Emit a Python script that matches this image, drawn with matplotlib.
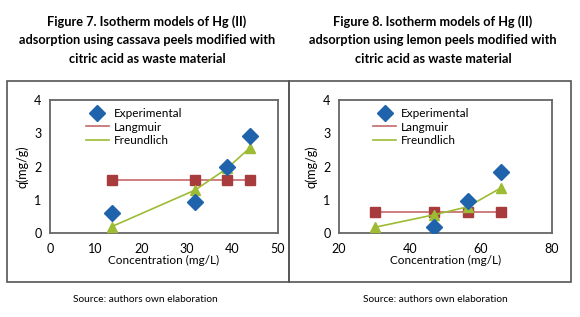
import matplotlib
matplotlib.use("Agg")
from matplotlib import pyplot as plt
from matplotlib.patches import Rectangle
from matplotlib.lines import Line2D

# Figure 7 - cassava peels
cassava_conc = [13.5, 31.8, 38.8, 43.9]
cassava_exp = [0.59, 0.93, 1.98, 2.93]
cassava_lang = [1.59, 1.59, 1.59, 1.59]
cassava_freu = [0.19, 1.29, 1.94, 2.57]

# Figure 8 - lemon peels
lemon_conc_exp = [46.9, 56.3, 65.5]
lemon_exp = [0.19, 0.97, 1.82]
lemon_conc_fit = [30.0, 46.9, 56.3, 65.5]
lemon_lang = [0.64, 0.64, 0.64, 0.64]
lemon_freu = [0.17, 0.55, 0.79, 1.35]

titles = ["Figure 7. Isotherm models of Hg (II)\nadsorption using cassava peels modified with\ncitric acid as waste material",
          "Figure 8. Isotherm models of Hg (II)\nadsorption using lemon peels modified with\ncitric acid as waste material"]
source = "Source: authors own elaboration"

blue = "#1f63ad"
red_line = "#c4686a"
red_mark = "#a83c3c"
green = "#9dbb33"
frame = "#555555"

plt.rcParams["font.family"] = ["Lato", "DejaVu Sans"]

fig = plt.figure(figsize=(5.8, 3.17), dpi=100)

# outer frames
fig.patches.append(Rectangle((7/580, 1-282/317), (289-7)/580, (282-81)/317,
                             transform=fig.transFigure, fill=False, edgecolor=frame, lw=1.2))
fig.patches.append(Rectangle((289/580, 1-282/317), (571-289)/580, (282-81)/317,
                             transform=fig.transFigure, fill=False, edgecolor=frame, lw=1.2))


def draw(ax, x_exp, y_exp, x_fit, y_lang, y_freu, xlim, xticks):
    ax.plot(x_fit, y_lang, color=red_line, lw=1.2, marker="s", ms=7,
            mfc=red_mark, mec=red_mark, zorder=2)
    ax.plot(x_fit, y_freu, color=green, lw=1.2, marker="^", ms=7,
            mfc=green, mec=green, zorder=3)
    ax.plot(x_exp, y_exp, ls="none", marker="D", ms=8, mfc=blue, mec=blue, zorder=4)
    ax.set_xlim(*xlim)
    ax.set_ylim(0, 4)
    ax.set_xticks(xticks)
    ax.set_yticks([0, 1, 2, 3, 4])
    ax.tick_params(length=0, labelsize=9)
    ax.tick_params(axis="x", pad=7)
    ax.tick_params(axis="y", pad=6)
    for s in ax.spines.values():
        s.set_color("#666666")
        s.set_linewidth(1.3)
    ax.set_xlabel("Concentration (mg/L)", fontsize=8.5, labelpad=0)
    ax.set_ylabel("q(mg/g)", fontsize=9, labelpad=4)
    handles = [Line2D([], [], ls="none", marker="D", ms=8, mfc=blue, mec=blue),
               Line2D([], [], color=red_line, lw=1.2),
               Line2D([], [], color=green, lw=1.2)]
    ax.legend(handles, ["Experimental", "Langmuir", "Freundlich"], loc="upper left",
              bbox_to_anchor=(0.12, 1.0), frameon=False, fontsize=8.5,
              handlelength=2.0, handletextpad=0.4, labelspacing=0.2, borderaxespad=0.3)


ax1 = fig.add_axes([50/580, 1-233/317, 228/580, 133/317])
draw(ax1, cassava_conc, cassava_exp, cassava_conc, cassava_lang, cassava_freu,
     (0, 50), [0, 10, 20, 30, 40, 50])

ax2 = fig.add_axes([339/580, 1-233/317, 213/580, 133/317])
draw(ax2, lemon_conc_exp, lemon_exp, lemon_conc_fit, lemon_lang, lemon_freu,
     (20, 80), [20, 40, 60, 80])

fig.text(147/580, 1-40/317, titles[0], ha="center", va="center", fontsize=9.2,
         fontweight="bold", linespacing=1.65, multialignment="center")
fig.text(433/580, 1-40/317, titles[1], ha="center", va="center", fontsize=9.2,
         fontweight="bold", linespacing=1.65, multialignment="center")
fig.text(145/580, 1-300/317, source, ha="center", va="center", fontsize=7.3)
fig.text(435/580, 1-300/317, source, ha="center", va="center", fontsize=7.3)

fig.savefig("out.png", dpi=100)
